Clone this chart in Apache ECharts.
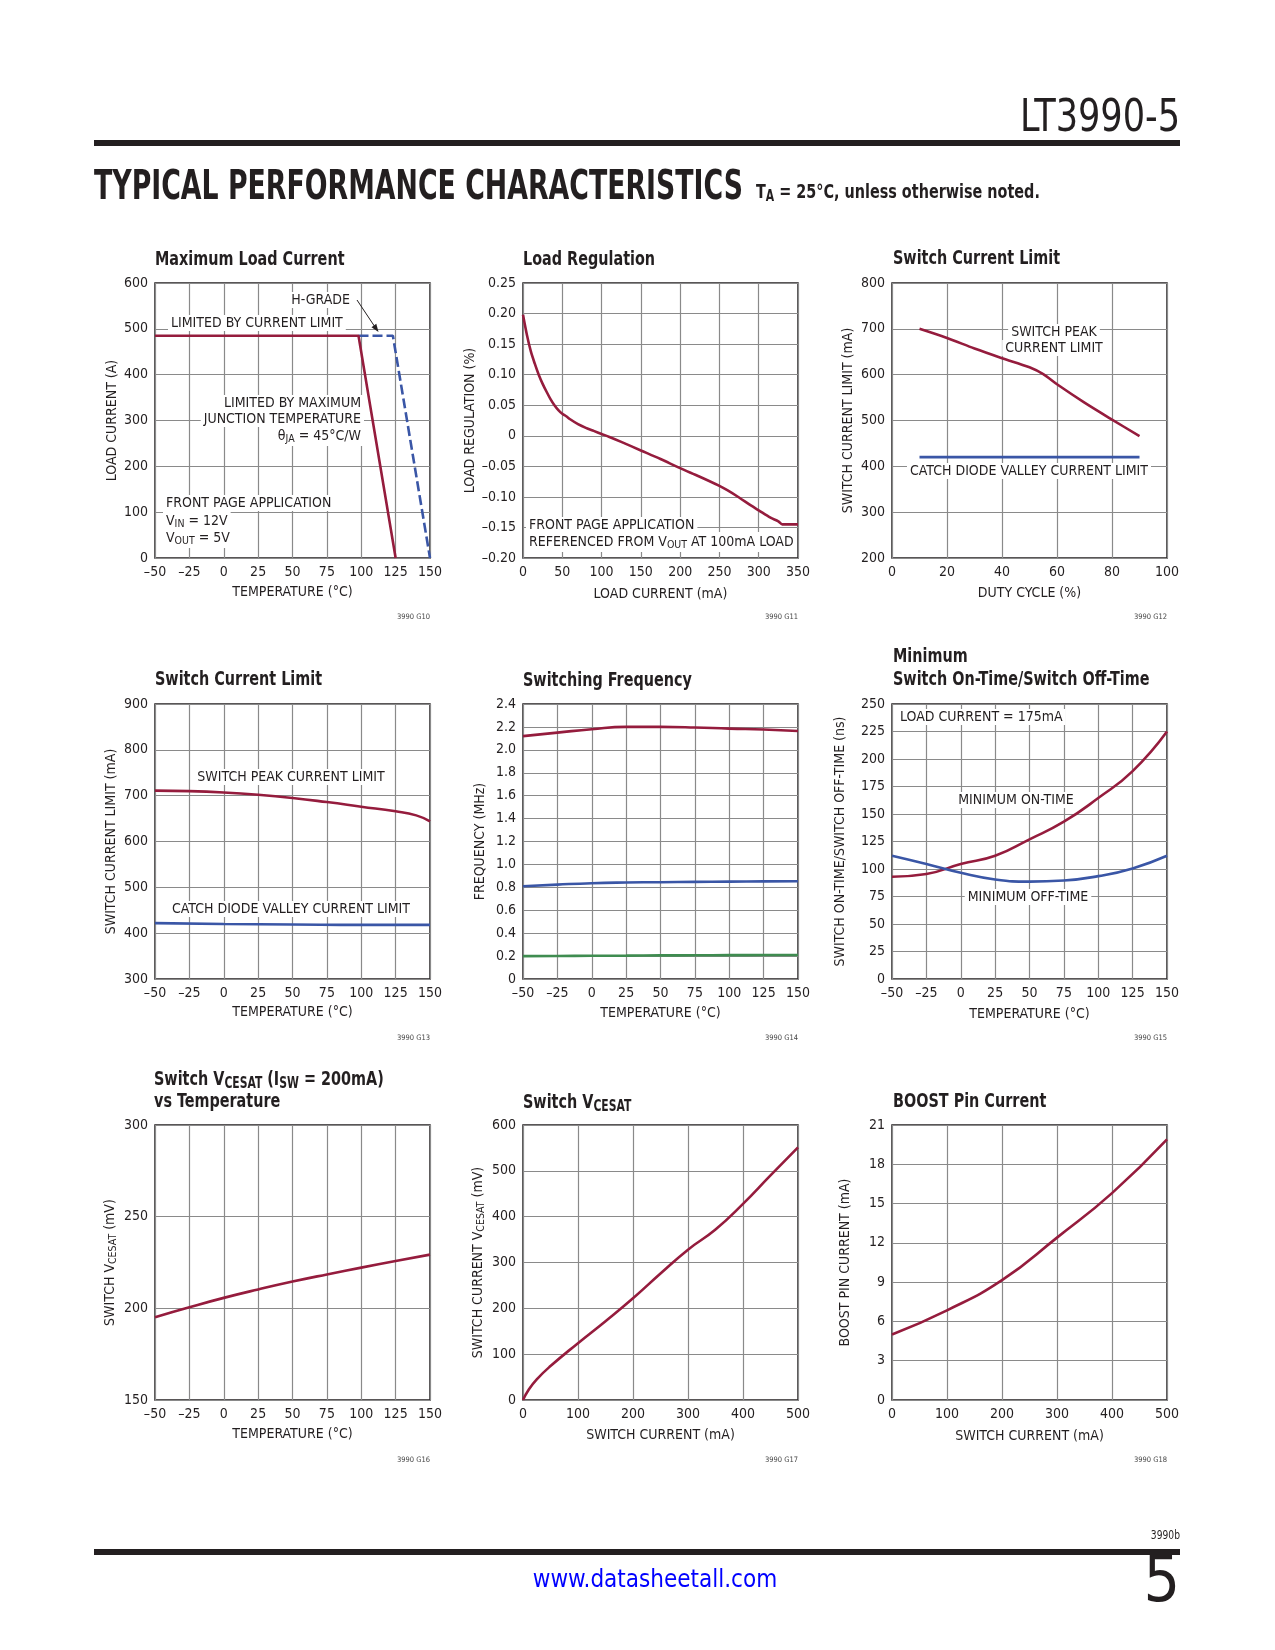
<!DOCTYPE html>
<html><head><meta charset="utf-8">
<script src="https://cdn.jsdelivr.net/npm/echarts@6/dist/echarts.min.js"></script>
<style>html,body{margin:0;padding:0;background:#fff}#c{width:1275px;height:1650px}</style>
</head><body><div id="c"></div>
<script>
// ---------- DATA ----------
const tempTicks = [-50, -25, 0, 25, 50, 75, 100, 125, 150];
// G10 Maximum Load Current
const g10LoadTicks = [0, 100, 200, 300, 400, 500, 600];
const g10StdTemp = [-50, 98, 125];
const g10StdLoad = [485, 485, 0];
const g10HTemp = [98, 123, 150];
const g10HLoad = [485, 485, 0];
// G11 Load Regulation
const g11CurTicks = [0, 50, 100, 150, 200, 250, 300, 350];
const g11RegTicks = [-0.20, -0.15, -0.10, -0.05, 0, 0.05, 0.10, 0.15, 0.20, 0.25];
const g11Current = [0, 5, 10, 15, 20, 25, 30, 35, 40, 45, 50, 55, 60, 70, 80, 90, 100, 110, 125, 150, 175, 200, 225, 250, 260, 275, 290, 300, 315, 325, 330, 350];
const g11Reg = [0.198, 0.165, 0.138, 0.118, 0.100, 0.085, 0.072, 0.060, 0.050, 0.042, 0.036, 0.032, 0.027, 0.019, 0.013, 0.008, 0.003, -0.002, -0.010, -0.024, -0.038, -0.053, -0.067, -0.082, -0.089, -0.101, -0.114, -0.122, -0.134, -0.140, -0.145, -0.145];
// G12 Switch Current Limit vs Duty Cycle
const g12DutyTicks = [0, 20, 40, 60, 80, 100];
const g12LimTicks = [200, 300, 400, 500, 600, 700, 800];
const g12Duty = [10, 20, 30, 40, 50, 55, 60, 70, 80, 90];
const g12Peak = [700, 680, 657, 636, 616, 601, 579, 539, 502, 466];
const g12ValleyDuty = [10, 90];
const g12Valley = [420, 420];
// G13 Switch Current Limit vs Temperature
const g13LimTicks = [300, 400, 500, 600, 700, 800, 900];
const g13PeakTemp = [-50, -25, 0, 25, 50, 75, 100, 125, 140, 150];
const g13Peak = [711, 710, 707, 702, 695, 686, 676, 666, 657, 644];
const g13ValleyTemp = [-50, 0, 50, 100, 150];
const g13Valley = [422, 420, 419, 418, 418];
// G14 Switching Frequency
const g14FreqTicks = [0, 0.2, 0.4, 0.6, 0.8, 1.0, 1.2, 1.4, 1.6, 1.8, 2.0, 2.2, 2.4];
const g14High = [2.12, 2.15, 2.18, 2.20, 2.20, 2.195, 2.185, 2.178, 2.165];
const g14Mid = [0.81, 0.824, 0.836, 0.842, 0.845, 0.848, 0.850, 0.852, 0.853];
const g14Low = [0.200, 0.201, 0.203, 0.204, 0.206, 0.207, 0.208, 0.209, 0.210];
// G15 Minimum On/Off Time
const g15TimeTicks = [0, 25, 50, 75, 100, 125, 150, 175, 200, 225, 250];
const g15OnTemp = [-50, -25, 0, 25, 50, 75, 100, 125, 150];
const g15On = [93, 95.5, 104.5, 112, 127, 143, 164.5, 189, 225];
const g15OffTemp = [-50, -25, 0, 25, 50, 75, 100, 125, 150];
const g15Off = [112, 104.5, 96.5, 90.5, 88.5, 89.5, 93.5, 100.5, 112];
// G16 VCESAT vs Temperature
const g16VTicks = [150, 200, 250, 300];
const g16V = [195.2, 200.6, 205.7, 210.3, 214.6, 218.5, 222.2, 225.8, 229.3];
// G17 VCESAT vs Switch Current
const g17CurTicks = [0, 100, 200, 300, 400, 500];
const g17VTicks = [0, 100, 200, 300, 400, 500, 600];
const g17Current = [0, 10, 25, 50, 100, 150, 200, 250, 300, 350, 400, 450, 500];
const g17V = [0, 22, 45, 74, 124, 172, 222, 276, 328, 372, 428, 490, 551];
// G18 BOOST Pin Current
const g18CurTicks = [0, 100, 200, 300, 400, 500];
const g18BoostTicks = [0, 3, 6, 9, 12, 15, 18, 21];
const g18Current = [0, 100, 200, 300, 400, 500];
const g18Boost = [5.0, 6.85, 9.15, 12.4, 15.8, 19.9];

// ---------- STYLE ----------
const FONT = "'Liberation Sans Narrow','DejaVu Sans Condensed',sans-serif";
const INK = '#231f20';
const GRIDC = '#8a8a8a';
const RED = '#951c3d', BLUE = '#3a56a6', GREEN = '#3f8c50';
const COLS = [155, 523, 892], ROWS = [283, 704, 1125], PW = 275, PH = 275;
const TSCALE = 0.8;

const zip = (a, b) => a.map((v, i) => [v, b[i]]);
const fmtInt = v => v < 0 ? '\u2013' + Math.abs(v) : String(v);
const fmtReg = v => Math.abs(v) < 1e-9 ? '0' : (v < 0 ? '\u2013' : '') + Math.abs(v).toFixed(2);
const fmtFreq = v => Math.abs(v) < 1e-9 ? '0' : v.toFixed(1);

const grids = [], xAxes = [], yAxes = [], series = [], graphics = [];
const subRich = (size, pad) => ({
  a: { fontFamily: FONT, fontSize: size, color: INK, fill: INK },
  s: { fontFamily: FONT, fontSize: size * 0.75, color: INK, fill: INK, padding: [pad, 0, 0, 0] }
});

function axisCfg(idx, ticks, fmt, name, gap, isX, rich) {
  return {
    type: 'value', gridIndex: idx,
    min: ticks[0], max: ticks[ticks.length - 1], interval: +(ticks[1] - ticks[0]).toFixed(6),
    name, nameLocation: 'middle', nameGap: gap,
    nameTextStyle: { fontFamily: FONT, fontSize: 14, color: INK, rich: rich },
    axisLine: { show: false }, axisTick: { show: false },
    axisLabel: { fontFamily: FONT, fontSize: 14, color: INK, margin: 7, formatter: fmt, showMinLabel: true, showMaxLabel: true, hideOverlap: false },
    splitLine: { show: true, lineStyle: { color: GRIDC, width: 1.2 } }
  };
}
function panel(r, c, xt, xf, xn, xg, yt, yf, yn, yg, yRich) {
  const idx = grids.length;
  grids.push({ left: COLS[c], top: ROWS[r], width: PW, height: PH, show: true, borderColor: INK, borderWidth: 1.5, backgroundColor: 'transparent', containLabel: false, outerBoundsMode: 'none' });
  xAxes.push(axisCfg(idx, xt, xf, xn, xg, true));
  yAxes.push(axisCfg(idx, yt, yf, yn, yg, false, yRich));
  return idx;
}
function line(i, xs, ys, color, opt) {
  series.push(Object.assign({
    type: 'line', xAxisIndex: i, yAxisIndex: i, data: zip(xs, ys), showSymbol: false, symbol: 'none',
    lineStyle: { color, width: 2.6 }, itemStyle: { color }, animation: false, silent: true, z: 3,
    smooth: 0.5
  }, opt || {}));
}
function T(x, y, text, o) {
  o = o || {};
  const al = o.align || 'left';
  graphics.push({
    type: 'text', x, y, z: o.z != null ? o.z : 1, scaleX: o.scaleX || 1,
    style: {
      text, fill: o.fill || INK, fontFamily: o.family || FONT, fontSize: o.size || 14, fontWeight: o.weight || 'normal',
      align: al, verticalAlign: 'middle', textAlign: al, textVerticalAlign: 'middle',
      backgroundColor: o.bg, padding: o.bg ? [1, 3] : 0, rich: o.rich
    }
  });
}
function fitScale(text, font, target) {
  const c = document.createElement('canvas').getContext('2d');
  c.font = font;
  return target / c.measureText(text).width;
}

// ---------- PANELS ----------
const TEMP = 'TEMPERATURE (\u00B0C)';
const p1 = panel(0, 0, tempTicks, fmtInt, TEMP, 27, g10LoadTicks, fmtInt, 'LOAD CURRENT (A)', 36);
line(p1, g10HTemp, g10HLoad, BLUE, { smooth: false, lineStyle: { color: BLUE, width: 2.6, type: [10, 4] }, z: 2 });
line(p1, g10StdTemp, g10StdLoad, RED, { smooth: false });

const p2 = panel(0, 1, g11CurTicks, fmtInt, 'LOAD CURRENT (mA)', 29, g11RegTicks, fmtReg, 'LOAD REGULATION (%)', 43);
line(p2, g11Current, g11Reg, RED, { smooth: 0.3 });

const p3 = panel(0, 2, g12DutyTicks, fmtInt, 'DUTY CYCLE (%)', 28, g12LimTicks, fmtInt, 'SWITCH CURRENT LIMIT (mA)', 37);
line(p3, g12Duty, g12Peak, RED, { smooth: 0.3 });
line(p3, g12ValleyDuty, g12Valley, BLUE, { smooth: false });

const p4 = panel(1, 0, tempTicks, fmtInt, TEMP, 26, g13LimTicks, fmtInt, 'SWITCH CURRENT LIMIT (mA)', 37);
line(p4, g13PeakTemp, g13Peak, RED);
line(p4, g13ValleyTemp, g13Valley, BLUE);

const p5 = panel(1, 1, tempTicks, fmtInt, TEMP, 27, g14FreqTicks, fmtFreq, 'FREQUENCY (MHz)', 36);
line(p5, tempTicks, g14High, RED);
line(p5, tempTicks, g14Mid, BLUE);
line(p5, tempTicks, g14Low, GREEN);

const p6 = panel(1, 2, tempTicks, fmtInt, TEMP, 28, g15TimeTicks, fmtInt, 'SWITCH ON-TIME/SWITCH OFF-TIME (ns)', 45);
line(p6, g15OnTemp, g15On, RED);
line(p6, g15OffTemp, g15Off, BLUE);

const p7 = panel(2, 0, tempTicks, fmtInt, TEMP, 27, g16VTicks, fmtInt, '{a|SWITCH V}{s|CESAT}{a| (mV)}', 36, subRich(14, 6));
line(p7, tempTicks, g16V, RED);

const p8 = panel(2, 1, g17CurTicks, fmtInt, 'SWITCH CURRENT (mA)', 28, g17VTicks, fmtInt, '{a|SWITCH CURRENT V}{s|CESAT}{a| (mV)}', 36, subRich(14, 6));
line(p8, g17Current, g17V, RED);

const p9 = panel(2, 2, g18CurTicks, fmtInt, 'SWITCH CURRENT (mA)', 29, g18BoostTicks, fmtInt, 'BOOST PIN CURRENT (mA)', 40);
line(p9, g18Current, g18Boost, RED);

// ---------- TITLES ----------
const TT = { size: 20, weight: 'bold', scaleX: TSCALE };
const titleRich = {
  a: { fontFamily: FONT, fontSize: 20, fontWeight: 'bold', fill: INK, color: INK },
  s: { fontFamily: FONT, fontSize: 15, fontWeight: 'bold', fill: INK, color: INK, padding: [9, 0, 0, 0] }
};
T(155, 260, 'Maximum Load Current', TT);
T(523, 260, 'Load Regulation', TT);
T(893, 259, 'Switch Current Limit', TT);
T(155, 680, 'Switch Current Limit', TT);
T(523, 681, 'Switching Frequency', TT);
T(893, 657, 'Minimum', TT);
T(893, 680, 'Switch On-Time/Switch Off-Time', TT);
T(154, 1080, '{a|Switch V}{s|CESAT}{a| (I}{s|SW}{a| = 200mA)}', { rich: titleRich, scaleX: TSCALE });
T(154, 1102, 'vs Temperature', TT);
T(523, 1103, '{a|Switch V}{s|CESAT}', { rich: titleRich, scaleX: TSCALE });
T(893, 1102, 'BOOST Pin Current', TT);

// figure codes
const codeRows = [617, 1038, 1460];
const codeRight = [430, 798, 1167];
let g = 10;
for (let r = 0; r < 3; r++) for (let c = 0; c < 3; c++) {
  T(codeRight[c], codeRows[r], '3990 G' + (g++), { size: 7.5, align: 'right', fill: '#444' });
}

// ---------- ANNOTATIONS ----------
const WB = '#ffffff';
const aRich = subRich(14, 7);
// G10
T(353, 300, 'H-GRADE', { align: 'right', bg: WB });
graphics.push({ type: 'line', z: 4, shape: { x1: 357, y1: 300, x2: 375, y2: 327 }, style: { stroke: INK, lineWidth: 1 } });
graphics.push({ type: 'polygon', z: 4, shape: { points: [[378.5, 332], [371.5, 327.2], [376.3, 323.8]] }, style: { fill: INK } });
T(168, 323, 'LIMITED BY CURRENT LIMIT', { bg: WB });
T(364, 403, 'LIMITED BY MAXIMUM', { align: 'right', bg: WB });
T(364, 419, 'JUNCTION TEMPERATURE', { align: 'right', bg: WB });
T(364, 436, '{a|\u03B8}{s|JA}{a| = 45\u00B0C/W}', { align: 'right', bg: WB, rich: aRich });
T(163, 503, 'FRONT PAGE APPLICATION', { bg: WB });
T(163, 521, '{a|V}{s|IN}{a| = 12V}', { bg: WB, rich: aRich });
T(163, 538, '{a|V}{s|OUT}{a| = 5V}', { bg: WB, rich: aRich });
// G11
T(526, 525, 'FRONT PAGE APPLICATION', { bg: WB });
T(526, 542, '{a|REFERENCED FROM V}{s|OUT}{a| AT 100mA LOAD}', { bg: WB, rich: aRich });
// G12
T(1054, 332, 'SWITCH PEAK', { align: 'center', bg: WB });
T(1054, 348, 'CURRENT LIMIT', { align: 'center', bg: WB });
T(1029, 471, 'CATCH DIODE VALLEY CURRENT LIMIT', { align: 'center', bg: WB });
// G13
T(291, 777, 'SWITCH PEAK CURRENT LIMIT', { align: 'center', bg: WB });
T(291, 909, 'CATCH DIODE VALLEY CURRENT LIMIT', { align: 'center', bg: WB });
// G15
T(897, 717, 'LOAD CURRENT = 175mA', { bg: WB });
T(1016, 800, 'MINIMUM ON-TIME', { align: 'center', bg: WB });
T(1028, 897, 'MINIMUM OFF-TIME', { align: 'center', bg: WB });

// ---------- PAGE HEADER / FOOTER ----------
const hdr = 'TYPICAL PERFORMANCE CHARACTERISTICS';
const hdrFont = "bold 40px 'Liberation Sans Narrow','DejaVu Sans Condensed',sans-serif";
T(94, 189, hdr, { size: 40, weight: 'bold', scaleX: fitScale(hdr, hdrFont, 649) });
T(756, 193, '{a|T}{s|A}{a| = 25\u00B0C, unless otherwise noted.}', {
  scaleX: 0.8,
  rich: {
    a: { fontFamily: FONT, fontSize: 20, fontWeight: 'bold', fill: INK, color: INK },
    s: { fontFamily: FONT, fontSize: 15, fontWeight: 'bold', fill: INK, color: INK, padding: [9, 0, 0, 0] }
  }
});
const lt = 'LT3990-5';
T(1180, 120, lt, { size: 44, align: 'right', scaleX: fitScale(lt, "44px 'Liberation Sans Narrow','DejaVu Sans Condensed',sans-serif", 160) });
graphics.push({ type: 'rect', z: 1, shape: { x: 94, y: 140, width: 1086, height: 6 }, style: { fill: INK } });
graphics.push({ type: 'rect', z: 1, shape: { x: 94, y: 1549, width: 1086, height: 6 }, style: { fill: INK } });
T(1180, 1536, '3990b', { size: 12, align: 'right', scaleX: 0.85 });
T(655, 1581, 'www.datasheetall.com', { size: 24, align: 'center', fill: '#0000ff' });
T(1180, 1584, '5', { size: 64, align: 'right' });

// ---------- CHART ----------
const chart = echarts.init(document.getElementById('c'), null, { renderer: 'canvas', width: 1275, height: 1650 });
chart.setOption({
  backgroundColor: '#ffffff',
  animation: false,
  grid: grids, xAxis: xAxes, yAxis: yAxes, series,
  graphic: { elements: graphics }
});
</script></body></html>
